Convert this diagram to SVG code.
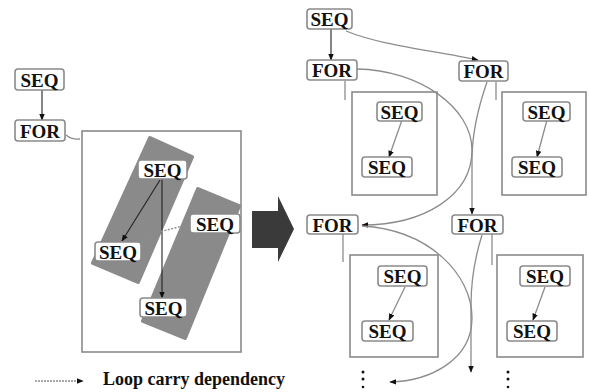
<svg xmlns="http://www.w3.org/2000/svg" width="589" height="392" viewBox="0 0 589 392">
<defs>
<style>
.n rect{fill:#fff;stroke:#8a8a8a;stroke-width:1.6;}
.n text,.t{font-family:"Liberation Serif","Times New Roman",serif;font-weight:bold;font-size:19px;fill:#111;text-anchor:middle;}
.t{font-size:18px;}
.box{fill:none;stroke:#8a8a8a;stroke-width:1.6;}
.c{fill:none;stroke:#8c8c8c;stroke-width:1.3;}
.k{fill:none;stroke:#222;stroke-width:1.1;}
.band{fill:#8a8a8a;stroke:#8a8a8a;stroke-width:4;stroke-linejoin:round;}
</style>
<marker id="ah" viewBox="0 0 10 10" refX="9" refY="5" markerWidth="7" markerHeight="7" markerUnits="userSpaceOnUse" orient="auto"><path d="M0,1 L10,5 L0,9 z" fill="#111"/></marker>
</defs>
<rect width="589" height="392" fill="#fff"/>

<!-- left side container and bands -->
<g id="left-body">
<rect class="box" x="82" y="131" width="159" height="221"/>
<polygon class="band" points="150,138 192,157 138,282 93,263"/>
<polygon class="band" points="198,189 239,206 185,338 143,321"/>
</g>

<g id="connectors">
<line class="k" x1="42" y1="90" x2="42" y2="120" marker-end="url(#ah)"/>
<path class="c" d="M66,135 Q72,140 80,139"/>
<line class="k" x1="162" y1="178" x2="162" y2="298" marker-end="url(#ah)"/>
<line class="k" x1="160" y1="180" x2="122" y2="241" marker-end="url(#ah)"/>
<line class="c" x1="190" y1="224" x2="128" y2="240" stroke-dasharray="2 1.5"/>
<!-- right side -->
<line class="k" x1="331" y1="29" x2="331" y2="60" marker-end="url(#ah)"/>
<path class="c" d="M346,31 C380,45 430,50 478,60" marker-end="url(#ah)"/>
<line class="c" x1="345" y1="81" x2="345" y2="100"/>
<line class="c" x1="496" y1="82" x2="496" y2="100"/>
<path class="c" d="M357,69 C420,70 472,108 472,150 C472,195 425,225 362,225" marker-end="url(#ah)"/>
<path class="c" d="M487,82 Q472,125 472,160 L472,214" marker-end="url(#ah)"/>
<line class="c" x1="402" y1="120" x2="389" y2="157" marker-end="url(#ah)"/>
<line class="c" x1="547" y1="120" x2="537" y2="157" marker-end="url(#ah)"/>
<line class="c" x1="343" y1="234" x2="343" y2="262"/>
<line class="c" x1="492" y1="234" x2="492" y2="265"/>
<path class="c" d="M362,226 C430,230 472,275 472,318 C472,360 430,381 390,382" marker-end="url(#ah)"/>
<path class="c" d="M482,235 Q471,270 471,305 L471,372" marker-end="url(#ah)"/>
<line class="c" x1="405" y1="287" x2="389" y2="320" marker-end="url(#ah)"/>
<line class="c" x1="545" y1="287" x2="533" y2="320" marker-end="url(#ah)"/>
</g>

<!-- left nodes -->
<g id="l-seq" class="n"><rect x="15" y="69" width="49" height="21" rx="3"/><text x="39.5" y="86.5">SEQ</text></g>
<g id="l-for" class="n"><rect x="15" y="120" width="50" height="21" rx="3"/><text x="40" y="137.5">FOR</text></g>
<g id="l-seq-a" class="n"><rect x="138" y="160" width="49" height="19" rx="3"/><text x="162.5" y="176.5">SEQ</text></g>
<g id="l-seq-b" class="n"><rect x="95" y="242" width="46" height="19" rx="3"/><text x="118" y="258.5">SEQ</text></g>
<g id="l-seq-c" class="n"><rect x="190" y="214" width="50" height="19" rx="3"/><text x="215" y="230.5">SEQ</text></g>
<g id="l-seq-d" class="n"><rect x="140" y="298" width="47" height="19" rx="3"/><text x="163.5" y="314.5">SEQ</text></g>

<!-- big arrow -->
<g id="transform-arrow"><polygon points="252,211 278,211 278,196 294,229 278,262 278,248 252,248" fill="#3a3a3a"/></g>

<!-- right side containers -->
<g id="r-body1"><rect class="box" x="352" y="92" width="85" height="103"/></g>
<g id="r-body2"><rect class="box" x="502" y="92" width="84" height="103"/></g>
<g id="r-body3"><rect class="box" x="350" y="255" width="88" height="102"/></g>
<g id="r-body4"><rect class="box" x="497" y="255" width="86" height="102"/></g>

<!-- right nodes -->
<g id="r-seq" class="n"><rect x="307" y="9" width="45" height="20" rx="3"/><text x="329.5" y="26">SEQ</text></g>
<g id="r-for1" class="n"><rect x="307" y="60" width="50" height="20" rx="3"/><text x="332" y="77">FOR</text></g>
<g id="r-for2" class="n"><rect x="459" y="61" width="49" height="20" rx="3"/><text x="483.5" y="78">FOR</text></g>
<g id="r-seq1a" class="n"><rect x="377" y="102" width="45" height="19" rx="3"/><text x="399.5" y="118.5">SEQ</text></g>
<g id="r-seq1b" class="n"><rect x="362" y="157" width="50" height="20" rx="3"/><text x="387" y="174">SEQ</text></g>
<g id="r-seq2a" class="n"><rect x="523" y="102" width="47" height="19" rx="3"/><text x="546.5" y="118.5">SEQ</text></g>
<g id="r-seq2b" class="n"><rect x="512" y="157" width="50" height="20" rx="3"/><text x="537" y="174">SEQ</text></g>
<g id="r-for3" class="n"><rect x="307" y="215" width="51" height="19" rx="3"/><text x="332.5" y="231.5">FOR</text></g>
<g id="r-for4" class="n"><rect x="452" y="215" width="51" height="19" rx="3"/><text x="477.5" y="231.5">FOR</text></g>
<g id="r-seq3a" class="n"><rect x="378" y="266" width="49" height="20" rx="3"/><text x="402.5" y="283">SEQ</text></g>
<g id="r-seq3b" class="n"><rect x="362" y="321" width="51" height="20" rx="3"/><text x="387.5" y="338">SEQ</text></g>
<g id="r-seq4a" class="n"><rect x="520" y="266" width="50" height="20" rx="3"/><text x="545" y="283">SEQ</text></g>
<g id="r-seq4b" class="n"><rect x="507" y="321" width="50" height="20" rx="3"/><text x="532" y="338">SEQ</text></g>

<!-- continuation dots -->
<g id="dots" fill="#111">
<circle cx="363" cy="372" r="1.5"/><circle cx="363" cy="379" r="1.5"/><circle cx="363" cy="387" r="1.3"/>
<circle cx="508" cy="372" r="1.5"/><circle cx="508" cy="379" r="1.5"/><circle cx="508" cy="387" r="1.3"/>
</g>

<!-- legend -->
<g id="legend">
<line class="c" x1="35" y1="381" x2="83" y2="381" stroke-dasharray="2 1" marker-end="url(#ah)"/>
<text class="t" x="103" y="385" style="text-anchor:start">Loop carry dependency</text>
</g>
</svg>
